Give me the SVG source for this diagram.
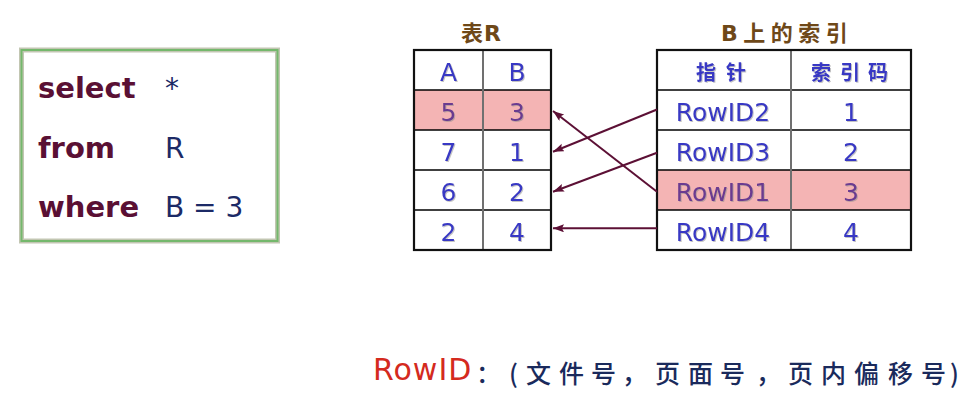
<svg xmlns="http://www.w3.org/2000/svg" width="976" height="406" viewBox="0 0 976 406">
<style>
.kw{font-family:"DejaVu Sans","Liberation Sans",sans-serif;font-weight:bold;font-size:29px;fill:#5a1034}
.val{font-family:"DejaVu Sans","Liberation Sans",sans-serif;font-size:28px;fill:#1c2a66}
.title{font-family:"DejaVu Sans","Noto Sans CJK SC",sans-serif;font-weight:bold;font-size:22px;fill:#6e4818}
.cell{font-family:"DejaVu Sans","Liberation Sans",sans-serif;font-size:25px;fill:#3838c4;text-anchor:middle}
.hl{fill:#6a3a90}
.hdr{font-family:"Noto Sans CJK SC",sans-serif;font-weight:bold;font-size:20px;fill:#3838c4}
.grid{stroke:#000;stroke-width:1.5;fill:none}
.vmid{stroke:#707070;stroke-width:2}
.outer{stroke:#111;stroke-width:2.2;fill:none}
.conn{stroke:#5c1035;stroke-width:2;fill:none}
.note{font-family:"Noto Sans CJK SC",sans-serif;font-size:25px;fill:#1a2a5c;font-weight:500}
</style>
<defs>
<marker id="ah" markerUnits="userSpaceOnUse" markerWidth="12" markerHeight="10" refX="11" refY="4" orient="auto">
<path d="M0,0 L11,4 L0,8 L2,4 z" fill="#5c1035"/>
</marker>
<filter id="sh" x="-10%" y="-10%" width="130%" height="130%">
<feDropShadow dx="1" dy="1" stdDeviation="0.6" flood-color="#888" flood-opacity="0.5"/>
</filter>
</defs>

<g id="query">
<rect x="21.5" y="50" width="256" height="191" fill="#fff" stroke="#c2c6b2" stroke-width="5"/>
<rect x="21.5" y="50" width="256" height="191" fill="none" stroke="#74b86c" stroke-width="2"/>
<text class="kw" x="38" y="98">select</text>
<text class="kw" x="38" y="158">from</text>
<text class="kw" x="38" y="217">where</text>
<text class="val" x="165" y="98">*</text>
<text class="val" x="165" y="158">R</text>
<text class="val" x="165" y="217">B = 3</text>
</g>

<g id="tableR">
<text class="title" x="461" y="41" letter-spacing="1">表R</text>
<rect x="414" y="90" width="137" height="40" fill="#f4b4b4"/>
<line class="grid" x1="414" y1="90" x2="551" y2="90"/>
<line class="grid" x1="414" y1="130" x2="551" y2="130"/>
<line class="grid" x1="414" y1="170" x2="551" y2="170"/>
<line class="grid" x1="414" y1="210" x2="551" y2="210"/>
<line class="vmid" x1="483" y1="50" x2="483" y2="250"/>
<rect class="outer" x="414" y="50" width="137" height="200"/>
<g filter="url(#sh)">
<text class="cell" x="448.5" y="81">A</text>
<text class="cell" x="517" y="81">B</text>
<text class="cell hl" x="448.5" y="121">5</text>
<text class="cell hl" x="517" y="121">3</text>
<text class="cell" x="448.5" y="161">7</text>
<text class="cell" x="517" y="161">1</text>
<text class="cell" x="448.5" y="201">6</text>
<text class="cell" x="517" y="201">2</text>
<text class="cell" x="448.5" y="241">2</text>
<text class="cell" x="517" y="241">4</text>
</g>
</g>

<g id="indexB">
<text class="title" x="721" y="41" letter-spacing="5.5">B上的索引</text>
<rect x="657" y="170" width="254" height="40" fill="#f4b4b4"/>
<line class="grid" x1="657" y1="90" x2="911" y2="90"/>
<line class="grid" x1="657" y1="130" x2="911" y2="130"/>
<line class="grid" x1="657" y1="170" x2="911" y2="170"/>
<line class="grid" x1="657" y1="210" x2="911" y2="210"/>
<line class="vmid" x1="791" y1="50" x2="791" y2="250"/>
<rect class="outer" x="657" y="50" width="254" height="200"/>
<g filter="url(#sh)">
<text class="hdr" x="696 726" y="80">指针</text>
<text class="hdr" x="811 840 868" y="80">索引码</text>
<text class="cell" x="723" y="121">RowID2</text>
<text class="cell" x="851" y="121">1</text>
<text class="cell" x="723" y="161">RowID3</text>
<text class="cell" x="851" y="161">2</text>
<text class="cell hl" x="723" y="201">RowID1</text>
<text class="cell hl" x="851" y="201">3</text>
<text class="cell" x="723" y="241">RowID4</text>
<text class="cell" x="851" y="241">4</text>
</g>
</g>

<g id="connectors">
<line class="conn" x1="657" y1="109.5" x2="553" y2="151.7" marker-end="url(#ah)"/>
<line class="conn" x1="657" y1="152.7" x2="553" y2="191.7" marker-end="url(#ah)"/>
<line class="conn" x1="657" y1="191.7" x2="553" y2="111" marker-end="url(#ah)"/>
<line class="conn" x1="657" y1="228.3" x2="553" y2="228.3" marker-end="url(#ah)"/>
</g>

<g id="note">
<text x="373" y="380" font-family="DejaVu Sans, Liberation Sans, sans-serif" font-size="30" letter-spacing="1" fill="#d42a1e">RowID</text>
<text class="note" x="476 509 526 559 591 622 655 688 720 756 788 821 854 888 921 950" y="383">：(文件号，页面号，页内偏移号)</text>
</g>
</svg>
